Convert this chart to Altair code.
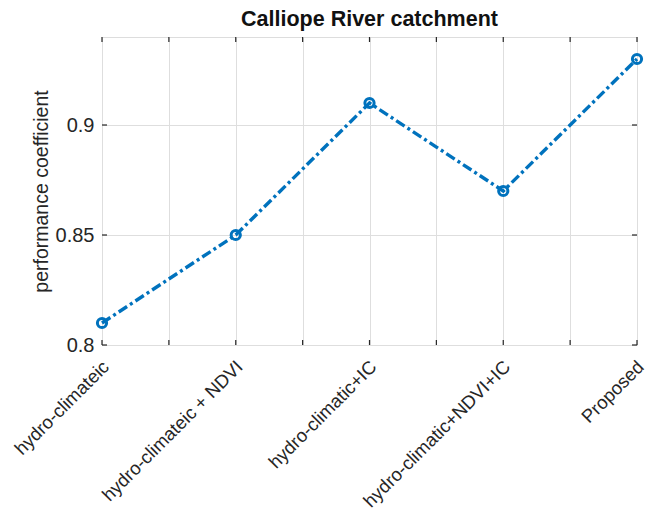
import altair as alt
import pandas as pd

# Feature sets compared and their performance coefficients
categories = [
    "hydro-climateic",
    "hydro-climateic + NDVI",
    "hydro-climatic+IC",
    "hydro-climatic+NDVI+IC",
    "Proposed",
]
scores = [0.81, 0.85, 0.91, 0.87, 0.93]

x_ticks = [1, 1.5, 2, 2.5, 3, 3.5, 4, 4.5, 5]
y_ticks = [0.8, 0.85, 0.9]

W, H = 535, 308
BLUE = "#0072BD"
INK = "#262626"
FONT = "Liberation Sans"

df = pd.DataFrame({"idx": list(range(1, len(categories) + 1)),
                   "name": categories, "score": scores})
xt = pd.DataFrame({"t": x_ticks})
yt = pd.DataFrame({"v": y_ticks})

name_expr = "[" + ",".join("'" + c + "'" for c in categories) + "]"
label_expr = f"datum.value % 1 == 0 ? {name_expr}[datum.value - 1] : ''"

xscale = alt.Scale(domain=[1, 5], nice=False, zero=False)
yscale = alt.Scale(domain=[0.8, 0.94], nice=False, zero=False)

x_enc = alt.X(
    "idx:Q", scale=xscale, title=None,
    axis=alt.Axis(values=x_ticks, labelExpr=label_expr, labelAngle=-45,
                  labelAlign="right", labelBaseline="top", labelPadding=12,
                  labelOffset=-3, labelLimit=0,
                  labelFontSize=18.5, labelColor=INK, labelFont=FONT,
                  grid=True, gridColor="#dedede", ticks=False, domain=False,
                  labelOverlap=False, labelBound=False, labelFlush=False),
)
y_enc = alt.Y(
    "score:Q", scale=yscale, title="performance coefficient",
    axis=alt.Axis(values=y_ticks, format=".2~f", labelFontSize=20,
                  labelColor=INK, labelFont=FONT, labelPadding=8,
                  titleFontSize=19.5, titleFontWeight="normal",
                  titleColor=INK, titleFont=FONT, titlePadding=4,
                  grid=True, gridColor="#dedede", ticks=False, domain=False),
)

line = alt.Chart(df).mark_line(
    color=BLUE, strokeWidth=3.4, strokeDash=[10, 3.5, 3, 3.5]
).encode(x=x_enc, y=y_enc)

points = alt.Chart(df).mark_point(
    filled=False, color=BLUE, size=85, strokeWidth=3, opacity=1
).encode(x=alt.X("idx:Q", scale=xscale), y=alt.Y("score:Q", scale=yscale))

# Inward tick marks on all four sides of the box
tick_style = dict(color=INK, strokeWidth=1.2)
xb = alt.Chart(xt).mark_rule(**tick_style).encode(
    x=alt.X("t:Q", scale=xscale), y=alt.value(H), y2=alt.value(H - 5))
xtp = alt.Chart(xt).mark_rule(**tick_style).encode(
    x=alt.X("t:Q", scale=xscale), y=alt.value(0), y2=alt.value(5))
yl = alt.Chart(yt).mark_rule(**tick_style).encode(
    y=alt.Y("v:Q", scale=yscale), x=alt.value(0), x2=alt.value(5))
yr = alt.Chart(yt).mark_rule(**tick_style).encode(
    y=alt.Y("v:Q", scale=yscale), x=alt.value(W), x2=alt.value(W - 5))

chart = alt.layer(line, points, xb, xtp, yl, yr).properties(
    width=W, height=H,
    title=alt.TitleParams("Calliope River catchment", fontSize=21.5,
                          fontWeight="bold", font=FONT, color="#111111",
                          offset=6),
    autosize=alt.AutoSizeParams(type="none"),
    padding={"left": 102, "top": 37, "right": 13, "bottom": 170},
).configure_view(
    stroke=INK, strokeWidth=1.3
).configure(background="white")

chart.save("out.html", embed_options={"renderer": "svg", "actions": False})
